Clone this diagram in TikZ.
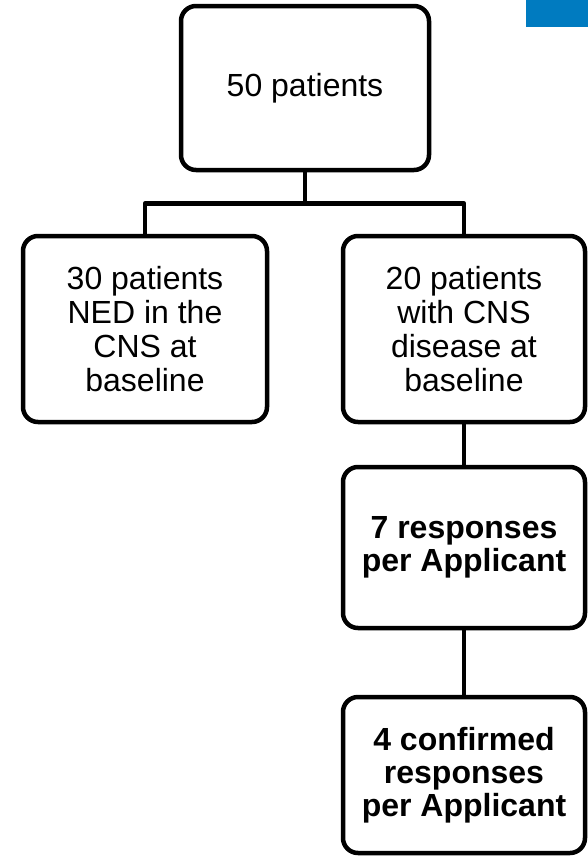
\documentclass[tikz,border=0pt]{standalone}
\usepackage{fontspec}
\setmainfont{Liberation Sans}
\usetikzlibrary{positioning}
\definecolor{tabblue}{RGB}{0,123,192}

\begin{document}
\begin{tikzpicture}[
    box/.style={rectangle, draw, line width=4.5pt, rounded corners=15pt, outer sep=0pt,
                font=\fontsize{32}{34}\selectfont, align=center},
    boldbox/.style={box, font=\fontsize{32}{33}\selectfont\bfseries},
    link/.style={line width=4.5pt, line join=round},
]
\useasboundingbox (0,0) rectangle (588pt,-857pt);
\fill[tabblue] (526pt,0) rectangle (588pt,-27pt);

\node[box, minimum width=248pt, minimum height=164pt] (all) at (305pt,-88pt) {50 patients};
\node[box, minimum width=244pt, minimum height=186pt] (ned) at (145pt,-329pt) {30 patients\\NED in the\\CNS at\\baseline};
\node[box, minimum width=242pt, minimum height=186pt] (cns) at (464pt,-329pt) {20 patients\\with CNS\\disease at\\baseline};
\node[boldbox, minimum width=242pt, minimum height=161pt, below=45pt of cns] (resp) {7 responses\\per Applicant};
\node[boldbox, minimum width=242pt, minimum height=156pt, below=69pt of resp] (conf) {4 confirmed\\responses\\per Applicant};

\draw[link] (all.south) -- ++(0,-33.5pt) coordinate (split);
\draw[link] (split) -| (ned.north);
\draw[link] (split) -| (cns.north);
\draw[link] (cns) -- (resp);
\draw[link] (resp) -- (conf);
\end{tikzpicture}
\end{document}
